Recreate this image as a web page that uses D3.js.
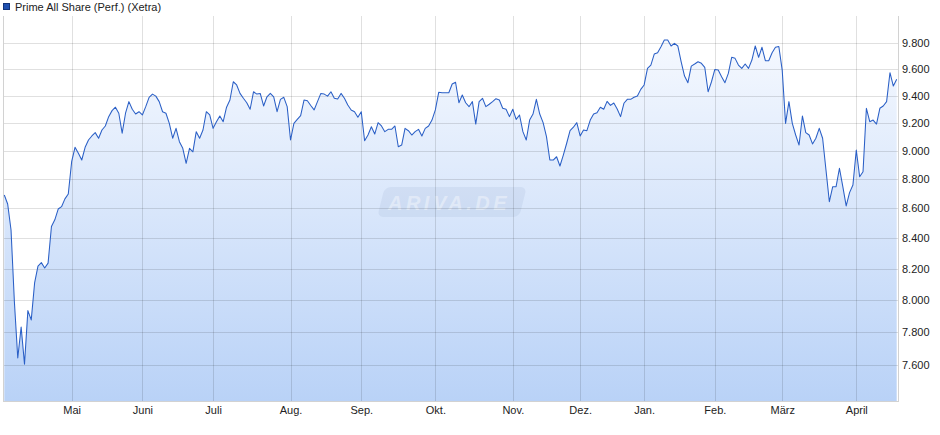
<!DOCTYPE html>
<html>
<head>
<meta charset="utf-8">
<script src="https://cdn.jsdelivr.net/npm/d3@7"></script>
<style>
  body { margin: 0; background: #fff; }
  svg { display: block; font-family: "Liberation Sans", Arial, sans-serif; }
  .grid line { stroke: #000; stroke-opacity: 0.12; shape-rendering: crispEdges; }
  .grid .domain { display: none; }
  .grid text { font-size: 11px; fill: #222; }
</style>
</head>
<body>
<svg width="940" height="435"></svg>
<script>
// data
var seriesName = "Prime All Share (Perf.) (Xetra)";

// one value per trading day, April to April
var values = [
  8691, 8629, 8454, 7987, 7642, 7831, 7605, 7933, 7875, 8108,
  8217, 8239, 8204, 8236, 8477, 8522, 8595, 8611, 8664, 8698,
  8922, 9024, 8981, 8934, 9024, 9076, 9105, 9129, 9089, 9148,
  9177, 9245, 9289, 9314, 9270, 9125, 9270, 9355, 9299, 9264,
  9281, 9257, 9318, 9387, 9411, 9396, 9355, 9281, 9270, 9196,
  9089, 9160, 9064, 9017, 8911, 9017, 8992, 9136, 9089, 9148,
  9281, 9257, 9160, 9208, 9250, 9208, 9314, 9367, 9503, 9479,
  9416, 9380, 9347, 9299, 9428, 9411, 9416, 9323, 9391, 9416,
  9391, 9281, 9372, 9387, 9318, 9076, 9196, 9225, 9253, 9367,
  9362, 9327, 9294, 9355, 9416, 9411, 9396, 9428, 9380, 9374,
  9416, 9380, 9330, 9294, 9281, 9240, 9281, 9071, 9112, 9172,
  9119, 9201, 9177, 9136, 9153, 9153, 9177, 9028, 9040, 9160,
  9143, 9112, 9136, 9153, 9105, 9160, 9177, 9220, 9294, 9424,
  9421, 9421, 9421, 9486, 9499, 9347, 9404, 9347, 9318, 9355,
  9191, 9355, 9380, 9318, 9336, 9355, 9377, 9367, 9306, 9299,
  9245, 9299, 9225, 9257, 9136, 9076, 9220, 9264, 9372, 9264,
  9201, 9100, 8934, 8934, 8957, 8892, 8969, 9053, 9143, 9168,
  9201, 9105, 9148, 9143, 9220, 9264, 9274, 9314, 9299, 9357,
  9327, 9345, 9301, 9245, 9343, 9372, 9372, 9387, 9396, 9446,
  9479, 9604, 9629, 9713, 9723, 9769, 9821, 9821, 9775, 9795,
  9775, 9654, 9546, 9496, 9621, 9637, 9654, 9642, 9612, 9428,
  9503, 9596, 9591, 9541, 9496, 9566, 9688, 9680, 9629, 9604,
  9637, 9604, 9667, 9775, 9688, 9765, 9662, 9662, 9723, 9765,
  9771, 9591, 9196, 9355, 9196, 9112, 9040, 9250, 9129, 9112,
  9048, 9089, 9160, 9089, 8864, 8645, 8748, 8748, 8876, 8748,
  8616, 8707, 8760, 9004, 8817, 8852, 9306, 9208, 9220, 9191,
  9306, 9323, 9355, 9571, 9471, 9521
];

// month labels and the trading-day index where each month starts
var monthLabels = ["Mai", "Juni", "Juli", "Aug.", "Sep.", "Okt.", "Nov.", "Dez.", "Jan.", "Feb.", "März", "April"];
var monthStarts = [20, 41, 62, 85, 106, 128, 151, 171, 190, 211, 231, 253];

var yTicks = [7600, 7800, 8000, 8200, 8400, 8600, 8800, 9000, 9200, 9400, 9600, 9800];
// end of data

var svg = d3.select("svg"),
    plotLeft = 3, plotRight = 898, plotTop = 16, plotBottom = 401;

var de = d3.formatLocale({ decimal: ",", thousands: ".", grouping: [3], currency: ["", " €"] });
var fmt = de.format(",.0f");

var x = d3.scaleLinear()
          .domain([0, values.length - 1])
          .range([4.3, 896.7]);

var y = d3.scaleLog()
          .domain([7387, 10009])
          .range([plotBottom, plotTop]);

// gradient for the area
var grad = svg.append("defs").append("linearGradient")
              .attr("id", "fillGrad")
              .attr("gradientUnits", "userSpaceOnUse")
              .attr("x1", 0).attr("y1", plotTop)
              .attr("x2", 0).attr("y2", plotBottom);
grad.append("stop").attr("offset", "0%").attr("stop-color", "#f9fbff");
grad.append("stop").attr("offset", "100%").attr("stop-color", "#b9d2f7");

var area = d3.area()
             .x(function(d, i) { return x(i); })
             .y0(plotBottom)
             .y1(function(d) { return y(d); });

var line = d3.line()
             .x(function(d, i) { return x(i); })
             .y(function(d) { return y(d); });

svg.append("path")
   .datum(values)
   .attr("d", area)
   .attr("fill", "url(#fillGrad)");

// watermark
var wm = svg.append("g").attr("transform", "translate(452,202)");
wm.append("rect")
  .attr("x", -71).attr("y", -15)
  .attr("width", 142).attr("height", 30)
  .attr("rx", 6)
  .attr("transform", "skewX(-14)")
  .attr("fill", "#9fb3d6")
  .attr("fill-opacity", 0.2);
wm.append("text")
  .attr("x", -3).attr("y", 8)
  .attr("text-anchor", "middle")
  .style("font-size", "20px")
  .style("font-weight", "bold")
  .style("font-style", "italic")
  .style("letter-spacing", "3.5px")
  .attr("fill", "#fff")
  .attr("fill-opacity", 0.4)
  .text("ARIVA.DE");

// grid + axes
svg.append("g")
   .attr("class", "grid")
   .attr("transform", "translate(" + plotRight + ",0)")
   .call(d3.axisRight(y)
           .tickValues(yTicks)
           .tickFormat(fmt)
           .tickSize(-(plotRight - plotLeft))
           .tickPadding(4));

svg.append("g")
   .attr("class", "grid")
   .attr("transform", "translate(0," + plotBottom + ")")
   .call(d3.axisBottom(x)
           .tickValues(monthStarts)
           .tickFormat(function(d, i) { return monthLabels[i]; })
           .tickSize(-(plotBottom - plotTop))
           .tickPadding(5));

// frame
svg.append("path")
   .attr("d", "M" + plotLeft + "," + plotTop + "V" + plotBottom + "H" + plotRight + "V" + plotTop)
   .attr("fill", "none")
   .attr("stroke", "#d2d2d2")
   .attr("shape-rendering", "crispEdges");

svg.append("path")
   .datum(values)
   .attr("d", line)
   .attr("fill", "none")
   .attr("stroke", "#2a5fc6")
   .attr("stroke-width", 1.05)
   .attr("stroke-linejoin", "round");

// legend
svg.append("rect")
   .attr("x", 3.5).attr("y", 3.5)
   .attr("width", 6).attr("height", 6)
   .attr("fill", "#1f50b0")
   .attr("stroke", "#12337a");
svg.append("text")
   .attr("x", 15).attr("y", 10.5)
   .style("font-size", "11px")
   .attr("fill", "#222")
   .text(seriesName);
</script>
</body>
</html>
